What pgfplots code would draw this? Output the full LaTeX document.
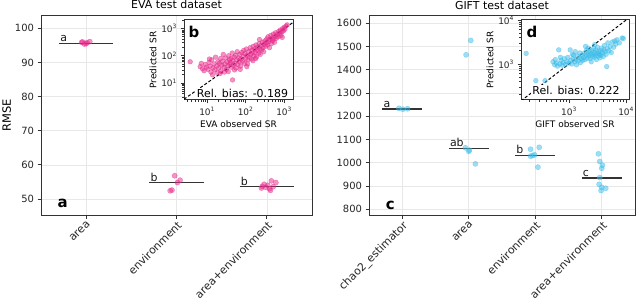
\documentclass[border=0pt]{standalone}
\usepackage{fontspec}
\setmainfont{DejaVu Sans}
\usepackage{pgfplots}
\pgfplotsset{compat=1.18}
\definecolor{evapink}{HTML}{E7298A}
\definecolor{giftblue}{HTML}{3BBDEB}
\definecolor{spine}{HTML}{333333}
\definecolor{gridc}{HTML}{E8E8E8}
\tikzset{
  grp/.style={anchor=south west, inner sep=1pt, font=\fontsize{11}{12}\selectfont, text=black!90},
  panel/.style={font=\bfseries\fontsize{15}{15}\selectfont, text=black},
}
\pgfplotsset{
  base/.style={scale only axis, axis line style={spine, line width=1pt},
    tick align=outside, tick pos=left, major tick length=3.5bp, minor tick length=2bp,
    tick style={spine, line width=0.8pt},
    /pgf/number format/assume math mode=true, /pgf/number format/1000 sep={},
    ticklabel style={text=black!85}},
  mainax/.style={base, grid=major, grid style={gridc, line width=0.6pt},
    ticklabel style={font=\fontsize{10}{11}\selectfont},
    xticklabel style={rotate=45, anchor=north east, inner sep=1pt, font=\fontsize{11}{12}\selectfont},
    title style={font=\fontsize{11}{12}\selectfont, yshift=-3bp},
    ylabel style={font=\fontsize{11.5}{12}\selectfont, yshift=-3bp}},
  inset/.style={base, axis background/.style={fill=white},
    ticklabel style={font=\fontsize{9}{10}\selectfont},
    xlabel style={font=\fontsize{9}{10}\selectfont, yshift=2bp},
    ylabel style={font=\fontsize{9}{10}\selectfont, yshift=-2bp}},
  evapt/.style={only marks, mark=*, mark size=2.6bp, mark options={draw=evapink, fill=evapink, fill opacity=0.5, draw opacity=0.5}},
  giftpt/.style={only marks, mark=*, mark size=2.6bp, mark options={draw=giftblue, fill=giftblue, fill opacity=0.5, draw opacity=0.5}},
  medline/.style={spine, line width=1.2pt, no marks},
}
\begin{document}
\begin{tikzpicture}
\useasboundingbox (0bp,0bp) rectangle (640bp,305bp);
% ---------------- EVA main
\begin{axis}[mainax, at={(41bp,90bp)}, anchor=south west, width=271bp, height=200bp,
  xmin=-0.5, xmax=2.5, ymin=45.3, ymax=103.9,
  xtick={0,1,2}, xticklabels={area,environment,area+environment},
  ytick={50,60,70,80,90,100},
  title={EVA test dataset}, ylabel={RMSE}]
\addplot[evapt] coordinates {(-0.04,96.0) (-0.02,95.4) (0.01,95.8) (0.04,96.1) (0.0,95.5) (-0.05,95.9)};
\addplot[evapt] coordinates {(0.98,56.8) (1.04,55.5) (1.01,54.8) (0.95,52.6) (0.93,52.4)};
\addplot[evapt] coordinates {(2.05,55.3) (2.10,54.8) (1.97,54.3) (1.95,53.7) (1.94,53.2) (2.01,54.0) (2.03,53.0) (2.04,52.5) (1.99,53.4) (2.07,53.6)};
\addplot[medline] coordinates {(-0.3,95.6) (0.3,95.6)};
\addplot[medline] coordinates {(0.7,54.8) (1.3,54.8)};
\addplot[medline] coordinates {(1.7,53.6) (2.3,53.6)};
\node[grp] at (axis cs:-0.3,95.6) {a};
\node[grp] at (axis cs:0.7,54.8) {b};
\node[grp] at (axis cs:1.7,53.6) {b};
\node[panel] at (axis cs:-0.26,48.6) {a};
\end{axis}
% ---------------- GIFT main
\begin{axis}[mainax, at={(369bp,90bp)}, anchor=south west, width=266bp, height=199bp,
  xmin=-0.5, xmax=3.5, ymin=775, ymax=1631,
  xtick={0,1,2,3}, xticklabels={chao2\_estimator,area,environment,area+environment},
  ytick={800,900,1000,1100,1200,1300,1400,1500,1600},
  title={GIFT test dataset}]
\addplot[giftpt] coordinates {(-0.05,1234) (0.01,1230) (0.08,1232)};
\addplot[giftpt] coordinates {(1.03,1526) (0.96,1464) (0.95,1064) (1.01,1054) (1.0,1049) (1.10,995)};
\addplot[giftpt] coordinates {(1.93,1058) (2.06,1066) (1.93,1028) (1.99,1034) (2.04,981) (1.96,1031)};
\addplot[giftpt] coordinates {(2.95,1038) (2.97,1005) (3.01,989) (3.00,976) (2.97,936) (2.96,907) (3.00,894) (3.06,890) (2.99,880)};
\addplot[medline] coordinates {(-0.3,1231) (0.3,1231)};
\addplot[medline] coordinates {(0.7,1062) (1.3,1062)};
\addplot[medline] coordinates {(1.7,1032) (2.3,1032)};
\addplot[medline] coordinates {(2.7,934) (3.3,934)};
\node[grp] at (axis cs:-0.3,1231) {a};
\node[grp] at (axis cs:0.7,1062) {ab};
\node[grp] at (axis cs:1.7,1032) {b};
\node[grp] at (axis cs:2.7,934) {c};
\node[panel] at (axis cs:-0.18,818) {c};
\end{axis}
% ---------------- EVA inset
\begin{axis}[inset, at={(184bp,205bp)}, anchor=south west, width=109bp, height=80bp,
  xmin=0.40, xmax=3.23, ymin=0.37, ymax=3.32,
  xtick={1,2,3}, xticklabels={10\textsuperscript{1},10\textsuperscript{2},10\textsuperscript{3}},
  ytick={1,2,3}, yticklabels={10\textsuperscript{1},10\textsuperscript{2},10\textsuperscript{3}},
  minor xtick={0.477,0.602,0.699,0.778,0.845,0.903,0.954,1.301,1.477,1.602,1.699,1.778,1.845,1.903,1.954,2.301,2.477,2.602,2.699,2.778,2.845,2.903,2.954},
  minor ytick={0.477,0.602,0.699,0.778,0.845,0.903,0.954,1.301,1.477,1.602,1.699,1.778,1.845,1.903,1.954,2.301,2.477,2.602,2.699,2.778,2.845,2.903,2.954,3.301},
  xlabel={EVA observed SR}, ylabel={Predicted SR}, clip=true]
\addplot[evapt, mark size=2.4bp] coordinates {
(0.56,1.78) (0.82,1.60) (0.88,1.52) (0.95,1.68) (0.92,1.45) (0.98,1.58) (0.85,1.72)
(1.02,1.50) (1.05,1.75) (1.08,1.62) (1.10,1.40) (1.12,1.85) (1.15,1.55) (1.18,1.70) (1.20,1.48) (1.22,1.95) (1.25,1.62) (1.28,1.78) (1.14,1.30) (1.26,1.38) (1.06,1.88)
(1.30,1.55) (1.32,1.72) (1.35,1.90) (1.36,1.45) (1.38,1.65) (1.40,1.80) (1.42,2.05) (1.44,1.58) (1.46,1.70) (1.48,1.92) (1.50,1.50) (1.52,1.78) (1.54,1.63) (1.56,2.00) (1.58,1.85) (1.34,1.35) (1.45,1.40) (1.55,1.42) (1.59,1.68)
(1.60,1.75) (1.62,1.90) (1.63,1.58) (1.65,2.10) (1.66,1.11) (1.67,1.82) (1.68,1.65) (1.70,1.95) (1.72,1.72) (1.74,2.02) (1.75,1.55) (1.77,1.85) (1.78,2.15) (1.80,1.68) (1.82,1.92) (1.84,1.78) (1.85,2.05) (1.87,1.62) (1.88,1.88) (1.90,2.12) (1.71,1.48) (1.86,1.50)
(1.92,1.80) (1.94,1.98) (1.95,2.20) (1.97,1.72) (1.98,2.08) (2.00,1.90) (2.02,2.25) (2.03,1.60) (2.04,2.02) (2.06,1.85) (2.08,2.15) (2.10,1.95) (2.12,2.30) (2.13,2.05) (2.15,1.88) (2.16,2.20) (2.18,2.10) (2.20,2.35) (2.05,1.70) (2.19,1.82)
(2.22,2.00) (2.24,2.25) (2.25,2.12) (2.27,2.40) (2.28,1.95) (2.30,2.20) (2.32,2.32) (2.34,2.10) (2.35,2.45) (2.37,2.25) (2.38,2.05) (2.40,2.38) (2.42,2.22) (2.44,2.50) (2.45,2.30) (2.47,2.15) (2.48,2.42) (2.50,2.55) (2.36,2.60) (2.26,1.90)
(2.52,2.35) (2.54,2.48) (2.55,2.62) (2.57,2.40) (2.58,2.70) (2.60,2.52) (2.62,2.30) (2.63,2.60) (2.65,2.75) (2.67,2.45) (2.68,2.65) (2.70,2.55) (2.72,2.80) (2.73,2.62) (2.75,2.50) (2.77,2.72) (2.78,2.85) (2.80,2.65)
(2.82,2.78) (2.84,2.70) (2.86,2.90) (2.88,2.82) (2.90,2.95) (2.92,2.75) (2.94,2.88) (2.96,3.00) (2.98,2.92) (3.00,3.05) (3.02,2.98) (3.05,3.10) (3.08,3.14) (2.95,2.68)};
\addplot[black, line width=1pt, dash pattern=on 3pt off 2pt, no marks] coordinates {(0.40,0.40) (3.23,3.23)};
\node[anchor=base, fill=white, inner sep=1.2pt, font=\fontsize{11}{12}\selectfont] at (rel axis cs:0.537,0.03) {Rel. bias: -0.189};
\node[panel, anchor=north west, inner sep=0pt] at (rel axis cs:0.04,0.93) {b};
\end{axis}
% ---------------- GIFT inset
\begin{axis}[inset, at={(521bp,205bp)}, anchor=south west, width=108bp, height=80bp,
  xmin=2.16, xmax=4.05, ymin=2.18, ymax=4.0,
  xtick={3,4}, xticklabels={10\textsuperscript{3},10\textsuperscript{4}},
  ytick={3,4}, yticklabels={10\textsuperscript{3},10\textsuperscript{4}},
  minor xtick={2.301,2.477,2.602,2.699,2.778,2.845,2.903,2.954,3.301,3.477,3.602,3.699,3.778,3.845,3.903,3.954},
  minor ytick={2.301,2.477,2.602,2.699,2.778,2.845,2.903,2.954,3.301,3.477,3.602,3.699,3.778,3.845,3.903,3.954},
  xlabel={GIFT observed SR}, ylabel={Predicted SR}, clip=true]
\addplot[giftpt, mark size=2.4bp] coordinates {
(2.25,3.24) (2.42,2.62) (2.58,2.62)
(2.72,3.05) (2.75,2.98) (2.78,3.02) (2.80,2.95) (2.82,3.32) (2.84,3.00) (2.86,3.08) (2.88,2.97) (2.90,3.03) (2.92,3.12) (2.94,2.99) (2.85,3.15) (2.76,3.10)
(2.96,3.05) (2.98,3.15) (3.00,3.02) (3.02,3.32) (3.03,3.08) (3.05,3.00) (3.07,3.12) (3.08,3.20) (3.10,3.05) (3.12,3.10) (3.13,2.98) (3.15,3.18) (3.16,3.07) (3.18,3.14) (3.19,3.25) (3.20,3.03) (3.22,3.12) (3.23,3.20) (3.24,3.08) (3.06,3.22) (3.11,3.28)
(3.26,3.15) (3.27,3.25) (3.28,3.10) (3.30,3.20) (3.31,3.32) (3.32,3.13) (3.33,3.22) (3.35,3.18) (3.36,3.28) (3.37,3.12) (3.38,3.24) (3.40,3.30) (3.41,3.17) (3.42,3.22) (3.43,3.35) (3.44,3.15) (3.45,3.26) (3.46,3.20) (3.47,3.32) (3.48,3.10) (3.49,3.24) (3.50,3.38) (3.51,3.18) (3.52,3.28) (3.53,3.22) (3.54,3.14) (3.29,3.40) (3.39,3.05) (3.34,3.36) (3.45,3.44)
(3.55,3.30) (3.56,3.20) (3.57,3.36) (3.58,3.25) (3.60,3.17) (3.61,3.32) (3.62,3.42) (3.63,3.28) (3.65,3.22) (3.66,2.94) (3.67,3.35) (3.68,3.48) (3.70,3.30) (3.72,3.40) (3.74,3.26) (3.76,3.50) (3.78,3.38)
(3.80,3.52) (3.82,3.45) (3.84,3.55) (3.88,3.48) (3.93,3.59) (3.95,3.58)};
\addplot[black, line width=1pt, dash pattern=on 3pt off 2pt, no marks] coordinates {(2.16,2.16) (4.05,4.05)};
\node[anchor=base, fill=white, inner sep=1.2pt, font=\fontsize{11}{12}\selectfont] at (rel axis cs:0.51,0.07) {Rel. bias: 0.222};
\node[panel, anchor=north west, inner sep=0pt] at (rel axis cs:0.05,0.93) {d};
\end{axis}
\end{tikzpicture}
\end{document}
